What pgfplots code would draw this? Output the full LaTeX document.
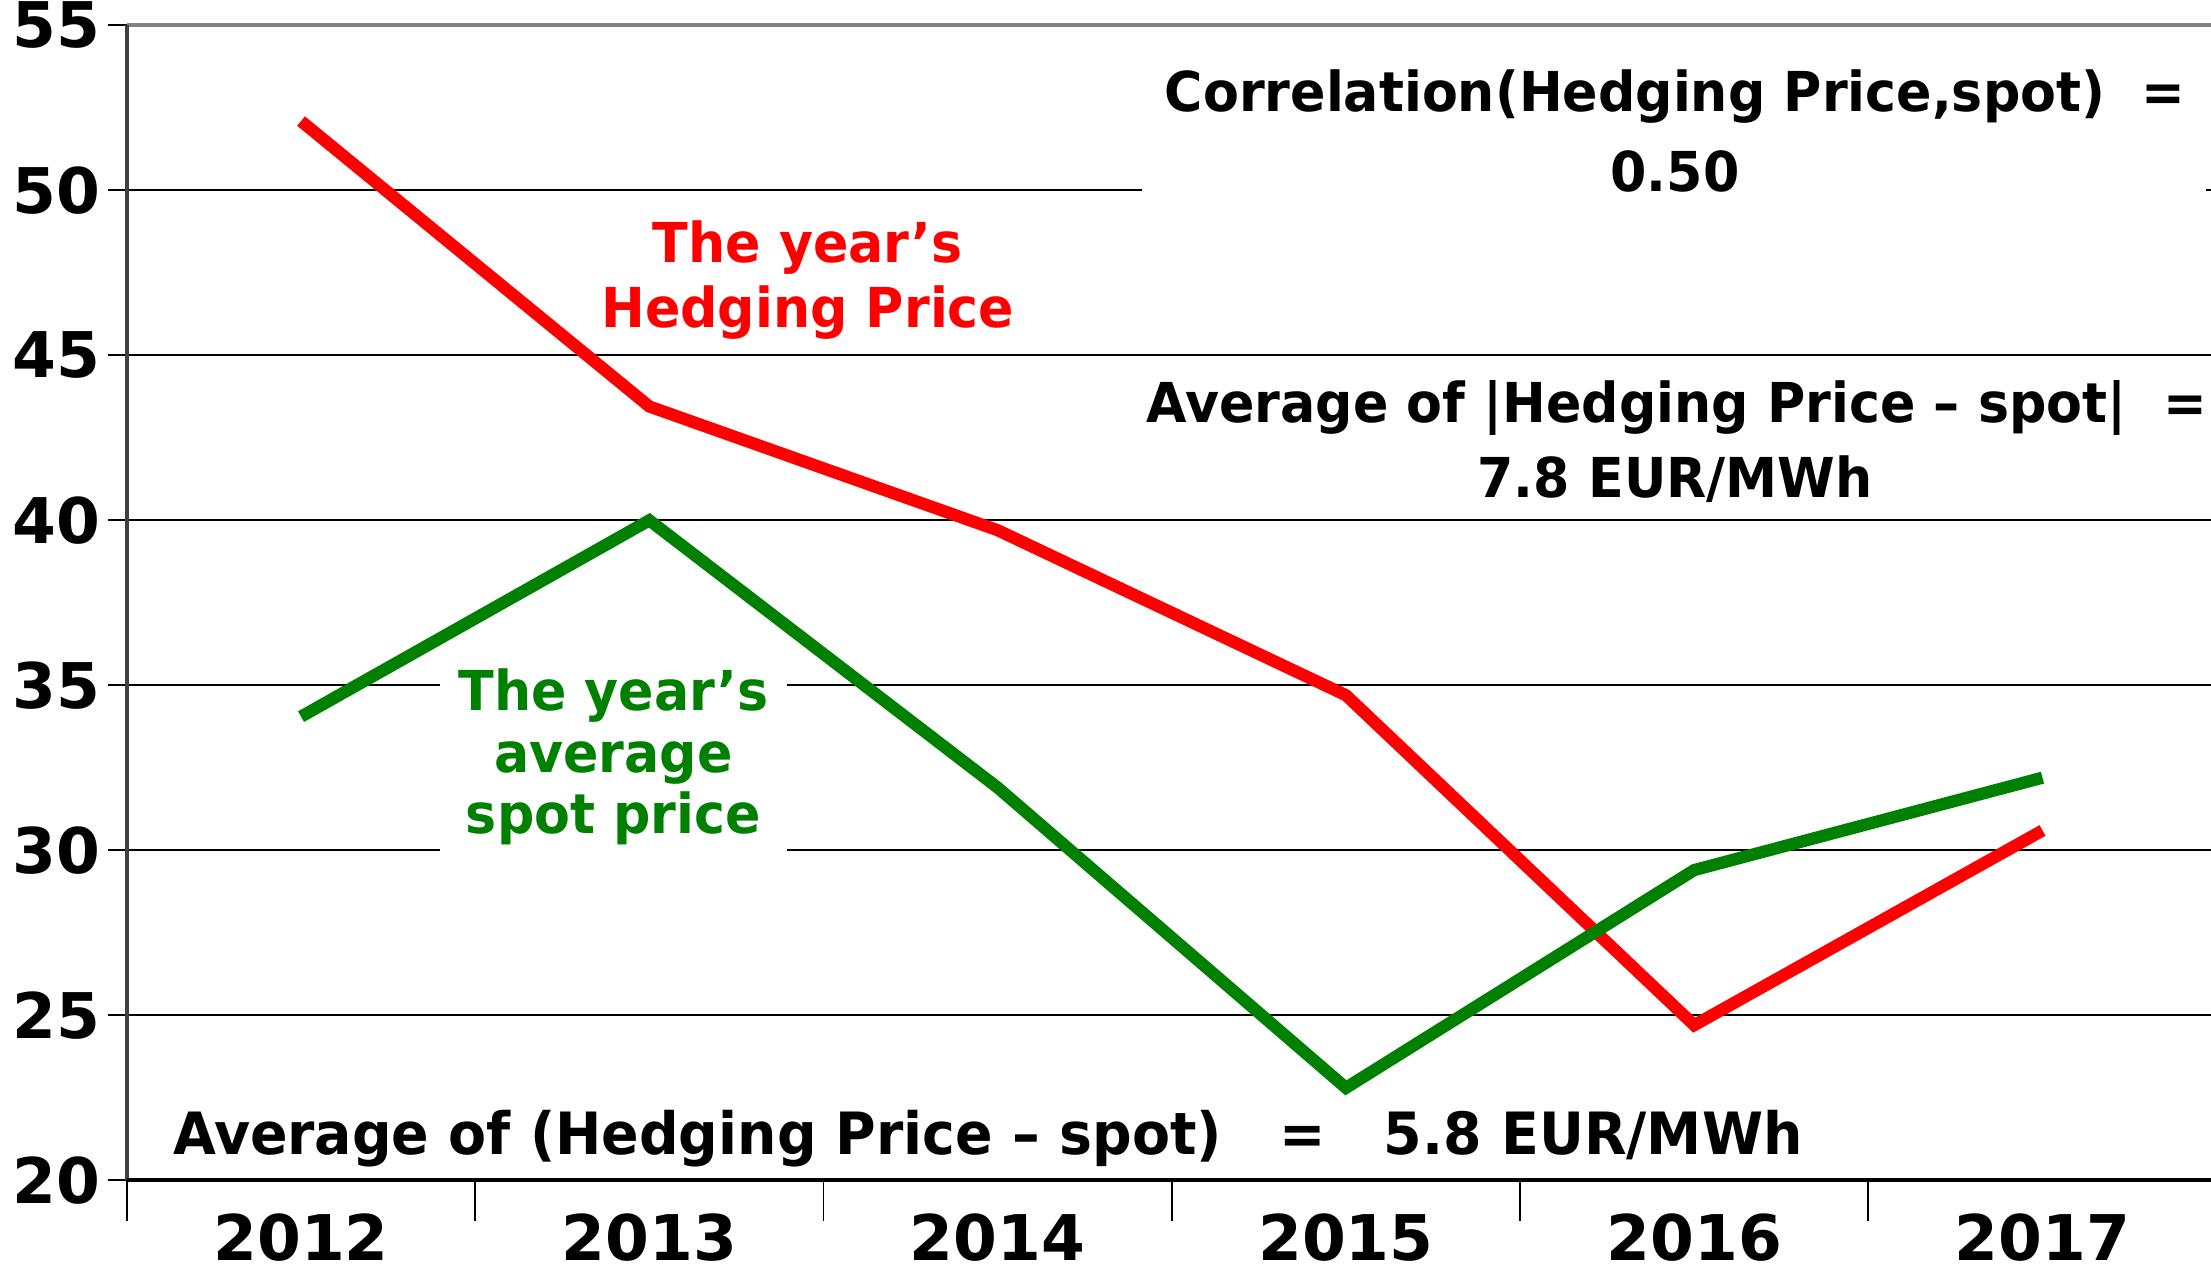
\documentclass[border=0pt]{standalone}
\usepackage{fontspec}
\setmainfont{DejaVu Sans}
\newfontfamily\annfont{DejaVu Sans}[FakeStretch=0.95]
\usepackage{pgfplots}
\pgfplotsset{compat=1.18}
\definecolor{hred}{RGB}{255,0,0}
\definecolor{sgreen}{RGB}{0,128,0}
\newcommand{\tf}{\annfont\fontsize{11.7}{14}\selectfont\bfseries}
\newcommand{\bottomf}{\annfont\fontsize{12.4}{14}\selectfont\bfseries}
\begin{document}
\begin{tikzpicture}
\begin{axis}[
  scale only axis,
  width=444.6pt, height=245.7pt,
  xmin=-0.5, xmax=5.5, ymin=20, ymax=55,
  clip=false,
  axis line style={draw=none},
  xtick={0,...,5},
  xticklabels={2012,2013,2014,2015,2016,2017},
  minor xtick={-0.5,0.5,...,5.5},
  ytick={20,25,...,55},
  xtick pos=bottom, ytick pos=left,
  tick align=outside,
  major tick length=4pt,
  minor tick length=8.7pt,
  major x tick style={draw=none},
  tick style={black, line width=0.4pt},
  ymajorgrids,
  grid style={black, line width=0.4pt},
  /pgf/number format/assume math mode=true,
  ticklabel style={font=\fontsize{13.4}{16}\selectfont\bfseries},
  xticklabel style={yshift=0.3pt},
  yticklabel style={xshift=1.9pt},
]
% white boxes behind texts
\fill[white] (axis cs:2.415,49.36) rectangle (axis cs:5.47,54.06);
\fill[white] (axis cs:0.399,29.7) rectangle (axis cs:1.395,35.9);

\addplot[hred, line width=2.6pt, line cap=butt, line join=miter] coordinates {
  (0,52.1) (1,43.45) (2,39.7) (3,34.7) (4,24.7) (5,30.6)};
\addplot[sgreen, line width=2.6pt, line cap=butt, line join=miter] coordinates {
  (0,34.05) (1,40.0) (2,31.9) (3,22.8) (4,29.4) (5,32.2)};

\node[anchor=base, inner sep=0pt, font=\tf] at (axis cs:3.945,52.39) {Correlation(Hedging Price,spot)\ \ =};
\node[anchor=base, inner sep=0pt, font=\tf] at (axis cs:3.945,49.96) {0.50};
\node[anchor=base, inner sep=0pt, font=\tf, text=hred] at (axis cs:1.455,47.8) {The year’s};
\node[anchor=base, inner sep=0pt, font=\tf, text=hred] at (axis cs:1.455,45.85) {Hedging Price};
\node[anchor=base, inner sep=0pt, font=\tf] at (axis cs:3.95,42.95) {Average of |Hedging Price – spot|\ \ =};
\node[anchor=base, inner sep=0pt, font=\tf] at (axis cs:3.945,40.68) {7.8 EUR/MWh};
\node[anchor=base, inner sep=0pt, font=\tf, text=sgreen] at (axis cs:0.897,34.25) {The year’s};
\node[anchor=base, inner sep=0pt, font=\tf, text=sgreen] at (axis cs:0.897,32.37) {average};
\node[anchor=base, inner sep=0pt, font=\tf, text=sgreen] at (axis cs:0.897,30.51) {spot price};
\node[anchor=base west, inner sep=0pt, font=\bottomf] at (axis cs:-0.37,20.77) {Average of (Hedging Price – spot)\ \ \ =\ \ \ 5.8 EUR/MWh};

% axis lines
\draw[gray, line width=0.85pt] (rel axis cs:0,1) -- (rel axis cs:1,1);
\draw[black!75, line width=0.9pt] (rel axis cs:0,0) -- (rel axis cs:0,1);
\draw[black, line width=0.9pt] (rel axis cs:0,0) -- (rel axis cs:1,0);
\coordinate (bl) at (rel axis cs:0,0);
\coordinate (tr) at (rel axis cs:1,1);
\end{axis}
\pgfresetboundingbox
\path ([shift={(-27pt,-19.2pt)}]bl) rectangle ([shift={(-1.2pt,5.4pt)}]tr);
\end{tikzpicture}
\end{document}
